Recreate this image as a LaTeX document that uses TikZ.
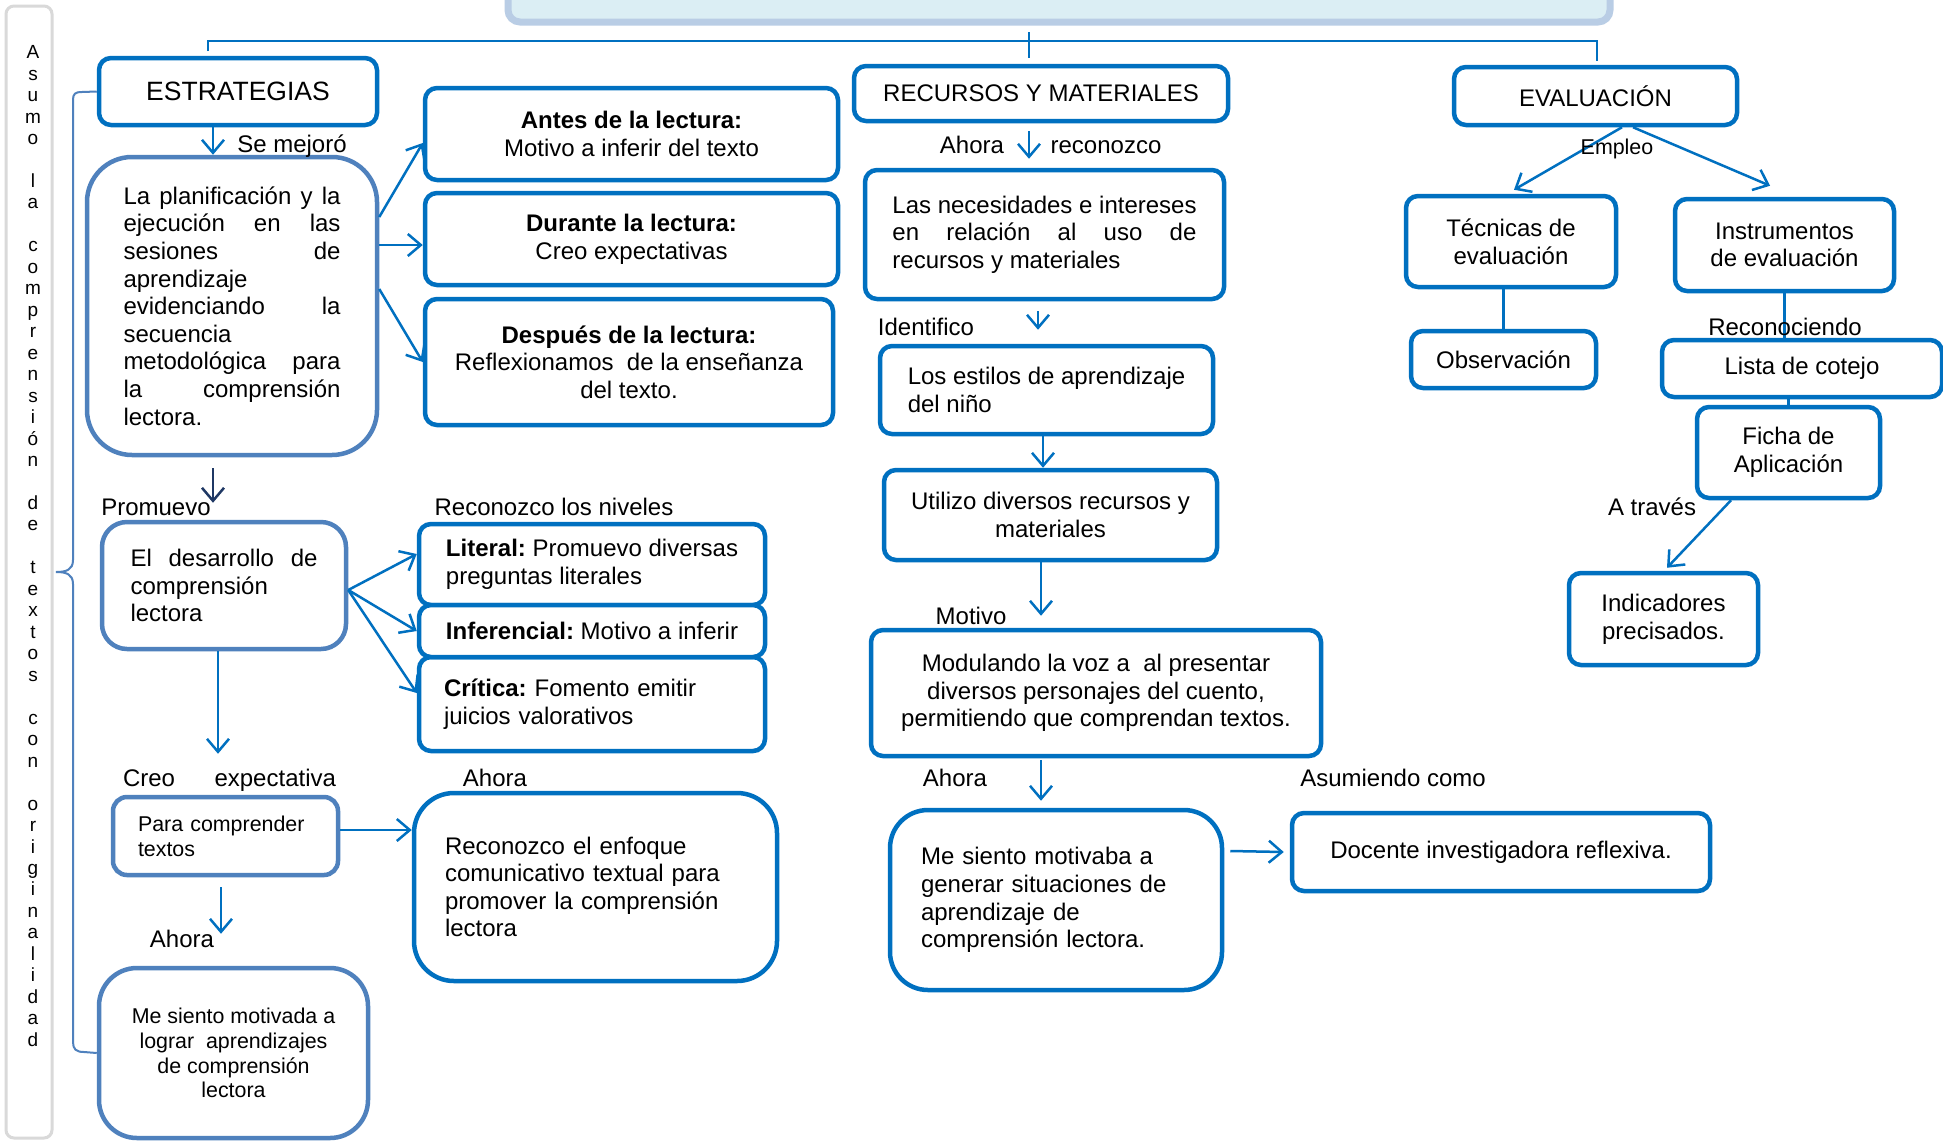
\documentclass[tikz,border=0pt]{standalone}
\usepackage{fontspec}
\setmainfont{Liberation Sans}
\usetikzlibrary{arrows.meta}
\definecolor{dblue}{HTML}{0070C0}
\definecolor{lblue}{HTML}{4F81BD}
\definecolor{navy}{HTML}{1F3864}
\definecolor{titlefill}{HTML}{DBEEF4}
\definecolor{titleline}{HTML}{B9CDE5}

\begin{document}
\frenchspacing
\begin{tikzpicture}[x=1pt,y=-1pt,
    box/.style={draw=dblue, line width=4.5pt, rounded corners=12pt, fill=white, inner sep=4pt, align=center, font=\fontsize{24}{27.6}\selectfont},
    lbox/.style={box, draw=lblue},
    lbl/.style={inner sep=0pt, text height=21pt, text depth=3.5pt, font=\fontsize{24}{27.6}\selectfont},
    small/.style={font=\fontsize{21.4}{24.8}\selectfont},
    arr/.style={draw=dblue, line width=2.5pt, -{Straight Barb[length=13pt,width=22pt]}},
    con/.style={draw=dblue, line width=2.5pt}]
  \useasboundingbox (0,0) rectangle (1943,1141);
  \fill[white] (0,0) rectangle (1943,1141);

  % title and bar
  \draw[fill=titlefill, draw=titleline, line width=7pt, rounded corners=12pt] (508,-40) rectangle (1610,22);
  \draw[fill=white, draw=black!15, line width=3pt, rounded corners=8pt] (6,6) rectangle (52,1138);
  \node[align=center, inner sep=0pt, font=\fontsize{19}{21.47}\selectfont] (vtext) at (33,546)
    {A\\s\\u\\m\\o\\\mbox{}\\l\\a\\\mbox{}\\c\\o\\m\\p\\r\\e\\n\\s\\i\\ó\\n\\\mbox{}\\d\\e\\\mbox{}\\t\\e\\x\\t\\o\\s\\\mbox{}\\c\\o\\n\\\mbox{}\\o\\r\\i\\g\\i\\n\\a\\l\\i\\d\\a\\d};

  \coordinate (tl) at (208,41);
  \coordinate (tr) at (1597,41);
  \draw[con] (208,51) -- (tl) -- (tr) -- (1597,61);
  \draw[dblue, line width=1.5pt] (1029,32) -- (1029,58);

  % estrategias
  \node[box, font=\fontsize{26.5}{30}\selectfont, minimum width=278pt, minimum height=67pt] (estr) at (238,91.5) {ESTRATEGIAS};
  \node[lbox, rounded corners=45pt, text width=217pt, align=left, minimum width=290pt, minimum height=298pt] (plan) at (232,306)
    {La\hfill planificación\hfill y\hfill la\\ejecución\hfill en\hfill las\\sesiones\hfill de\\aprendizaje\\evidenciando\hfill la\\secuencia\\metodológica\hfill para\\la\hfill comprensión\\lectora.};
  \node[box, minimum width=413pt, minimum height=92pt] (antes) at (631.5,134) {\textbf{Antes de la lectura:}\\Motivo a inferir del texto};
  \node[box, minimum width=413pt, minimum height=92pt] (dur) at (631.5,239) {\textbf{Durante la lectura:}\\Creo expectativas};
  \node[box, minimum width=408pt, minimum height=126pt] (desp) at (629,362) {\textbf{Después de la lectura:}\\Reflexionamos\ \ de la enseñanza\\del texto.};
  \node[lbox, rounded corners=25pt, text width=187pt, align=left, minimum width=244pt, minimum height=127pt] (des) at (224,585.5)
    {El\hfill desarrollo\hfill de\\comprensión\\lectora};
  \node[box, align=left, minimum width=346pt, minimum height=81pt] (lit) at (592,564.5) {\textbf{Literal:} Promuevo diversas\\preguntas literales};
  \node[box, text width=296pt, align=left, minimum width=346pt, minimum height=94pt] (crit) at (592,704) {\textbf{Crítica:} Fomento emitir\\juicios valorativos};
  \node[box, align=left, minimum width=346pt, minimum height=52pt] (inf) at (592,631) {\textbf{Inferencial:} Motivo a inferir};
  \node[lbox, small, rounded corners=14pt, text width=175pt, align=left, minimum width=225pt, minimum height=78pt] (para) at (225.5,836) {Para comprender\\textos};
  \node[box, rounded corners=40pt, text width=301pt, align=left, minimum width=363pt, minimum height=188pt] (enf) at (595.5,887)
    {Reconozco el enfoque\\comunicativo textual para\\promover la comprensión\\lectora};
  \node[lbox, small, rounded corners=38pt, minimum width=269pt, minimum height=170pt] (meA) at (233.5,1053)
    {Me siento motivada a\\lograr\ \ aprendizajes\\de comprensión\\lectora};

  % recursos y materiales
  \node[box, minimum width=374pt, minimum height=55pt] (rec) at (1041,93.5) {RECURSOS Y MATERIALES};
  \node[box, align=left, minimum width=359pt, minimum height=129pt] (nec) at (1044.5,234.5)
    {Las necesidades e intereses\\\makebox[304pt][s]{en relación al uso de}\\recursos y materiales};
  \node[box, align=left, minimum width=333pt, minimum height=88pt] (est) at (1046.5,390) {Los estilos de aprendizaje\\del niño};
  \node[box, minimum width=333pt, minimum height=90pt] (uti) at (1050.5,515) {Utilizo diversos recursos y\\materiales};
  \node[box, minimum width=450pt, minimum height=126pt] (mod) at (1096,693)
    {Modulando la voz a\ \ al presentar\\diversos personajes del cuento,\\permitiendo que comprendan textos.};
  \node[box, rounded corners=38pt, text width=270pt, align=left, minimum width=332pt, minimum height=180pt] (meB) at (1056,900)
    {Me siento motivaba a\\generar situaciones de\\aprendizaje de\\comprensión lectora.};
  \node[box, minimum width=418pt, minimum height=78pt] (doc) at (1501,852) {Docente investigadora reflexiva.};

  % evaluacion
  \node[box, minimum width=283pt, minimum height=58pt] (eval) at (1595.5,96) {EVALUACIÓN};
  \node[box, minimum width=210pt, minimum height=91pt] (tec) at (1511,241.5) {Técnicas de\\evaluación};
  \node[box, minimum width=185pt, minimum height=57pt] (obs) at (1503.5,359.5) {Observación};
  \node[box, minimum width=219pt, minimum height=92pt] (ins) at (1784.5,245) {Instrumentos\\de evaluación};
  \node[box, minimum width=280pt, minimum height=57pt] (lis) at (1802,368.5) {Lista de cotejo};
  \node[box, minimum width=183pt, minimum height=91pt] (fic) at (1788.5,452.5) {Ficha de\\Aplicación};
  \node[box, minimum width=189pt, minimum height=92pt] (ind) at (1663.5,619) {Indicadores\\precisados.};

  % brace
  \draw[lblue, line width=2pt] (estr.west) -- (82,92) .. controls (75,92) and (73,94) .. (73,100) -- (73,560)
    .. controls (73,570) and (66,572) .. (56,572) .. controls (66,572) and (73,574) .. (73,584) -- (73,1042)
    .. controls (73,1049) and (76,1052) .. (84,1052) -- (meA.west);

  % arrows
  \draw[arr] ([xshift=-25pt]estr.south) -- ([xshift=-19pt]plan.north);
  \draw[arr] ([yshift=89pt]plan.east) -- ([yshift=-9pt]antes.west);
  \draw[arr] ([yshift=61pt]plan.east) -- ([yshift=-6pt]dur.west);
  \draw[arr] ([yshift=17pt]plan.east) -- (desp.west);
  \draw[arr, draw=navy] ([xshift=-19pt,yshift=-11pt]plan.south) -- ([xshift=-11pt,yshift=17pt]des.north);
  \draw[arr] ([yshift=-4.5pt]des.east) -- ([yshift=10.5pt]lit.west);
  \draw[arr] ([yshift=-4.5pt]des.east) -- (inf.west);
  \draw[arr] ([yshift=-4.5pt]des.east) -- ([yshift=11pt]crit.west);
  \draw[arr] ([xshift=-6pt]des.south) -- ([xshift=-7.5pt,yshift=41pt]para.north);
  \draw[arr] ([yshift=6pt]para.east) -- ([yshift=57pt]enf.west);
  \draw[arr] ([xshift=-4.5pt,yshift=-10pt]para.south) -- ([xshift=-12.5pt,yshift=32pt]meA.north);
  \draw[arr] ([xshift=-12pt,yshift=-8pt]rec.south) -- ([xshift=-15.5pt,yshift=9pt]nec.north);
  \draw[arr] ([xshift=-6.5pt,yshift=-10pt]nec.south) -- ([xshift=-8.5pt,yshift=14pt]est.north);
  \draw[arr] ([xshift=-3.5pt]est.south) -- ([xshift=-7.5pt]uti.north);
  \draw[arr] ([xshift=-9.5pt]uti.south) -- ([xshift=-55pt,yshift=12pt]mod.north);
  \draw[arr] ([xshift=-55pt,yshift=-2pt]mod.south) -- ([xshift=-15pt,yshift=7pt]meB.north);
  \draw[arr] ([xshift=6pt,yshift=49pt]meB.east) -- ([xshift=-6pt]doc.west);
  \draw[arr] ([xshift=26.5pt]eval.south) -- ([xshift=3pt,yshift=4pt]tec.north);
  \draw[arr] ([xshift=37.5pt]eval.south) -- ([xshift=-14.5pt,yshift=11pt]ins.north);
  \draw[arr] ([xshift=-57.5pt]fic.south) -- ([xshift=3.5pt,yshift=3pt]ind.north);
  \draw[con] (tec.south -| obs.north) -- (obs.north);
  \draw[con] (ins.south) -- (ins.south |- lis.north);
  \draw[con] (lis.south -| fic.north) -- (fic.north);

  % labels
  \node[lbl] (semej) at (292,144) {Se mejoró};
  \node[lbl] (prom) at (156,507) {Promuevo};
  \node[lbl] (niv) at (554,507) {Reconozco los niveles};
  \node[lbl, text width=213pt, align=left] (creo) at (229.5,778) {Creo\hfill expectativa};
  \node[lbl] (ahoraA) at (495,778) {Ahora};
  \node[lbl] (ahoraB) at (182,939) {Ahora};
  \node[lbl] (ahoraC) at (972,145) {Ahora};
  \node[lbl] (reco) at (1106,145) {reconozco};
  \node[lbl] (iden) at (926,327) {Identifico};
  \node[lbl] (moti) at (971,616) {Motivo};
  \node[lbl] (ahoraD) at (955,778) {Ahora};
  \node[lbl] (asum) at (1393,778) {Asumiendo como};
  \node[lbl, small] (empl) at (1617,146) {Empleo};
  \node[lbl] (recon) at (1785,327) {Reconociendo};
  \node[lbl] (trav) at (1652,507) {A través};
\end{tikzpicture}
\end{document}
